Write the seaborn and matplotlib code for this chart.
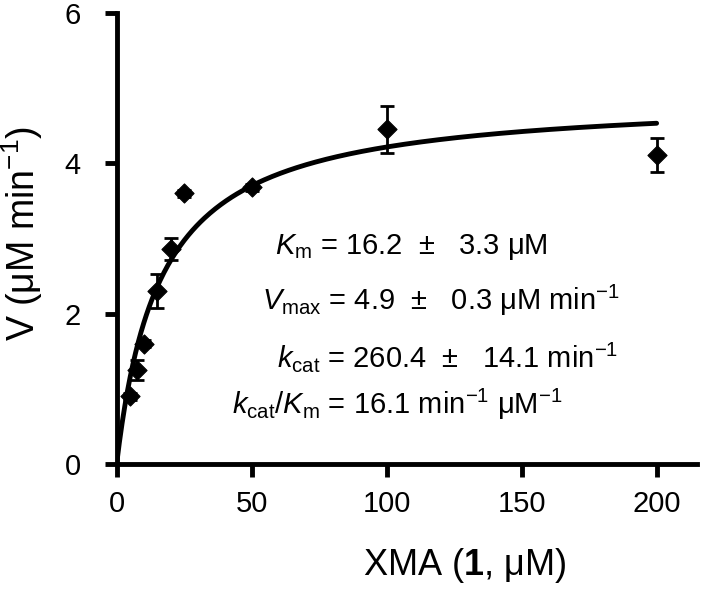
import numpy as np
import pandas as pd
import matplotlib
matplotlib.use("Agg")
import matplotlib.pyplot as plt
import seaborn as sns

# data
conc = [5, 7.5, 10, 15, 20, 25, 50, 100, 200]
rate = [0.90, 1.25, 1.60, 2.30, 2.86, 3.60, 3.68, 4.45, 4.11]
err = [0.05, 0.13, 0.05, 0.23, 0.15, 0.05, 0.05, 0.31, 0.23]
vmax = 4.9
km = 16.2
xticks = [0, 50, 100, 150, 200]
yticks = [0, 2, 4, 6]

sns.set_style("ticks")
plt.rcParams['font.family'] = ['Liberation Sans', 'DejaVu Sans']
plt.rcParams['mathtext.fontset'] = 'custom'
plt.rcParams['mathtext.rm'] = 'Liberation Sans'
plt.rcParams['mathtext.it'] = 'Liberation Sans:italic'
plt.rcParams['mathtext.bf'] = 'Liberation Sans:bold'
plt.rcParams['text.color'] = 'black'
plt.rcParams['axes.labelcolor'] = 'black'
plt.rcParams['axes.edgecolor'] = 'black'

df = pd.DataFrame({"conc": conc, "rate": rate, "err": err})
fit_x = np.linspace(0, 200, 400)
fit = pd.DataFrame({"x": fit_x, "y": vmax * fit_x / (km + fit_x)})

fig = plt.figure(figsize=(7.07, 5.90), dpi=100)
ax = fig.add_axes([0.165, 0.2136, 0.821, 0.7644])

# Michaelis-Menten fit + data
sns.lineplot(data=fit, x="x", y="y", color="black", linewidth=3.5, ax=ax)
ax.errorbar(df["conc"], df["rate"], yerr=df["err"], fmt="none", ecolor="black",
            elinewidth=2, capsize=5, capthick=2, zorder=3)
sns.scatterplot(data=df, x="conc", y="rate", marker="D", s=95, color="black",
                edgecolor="black", ax=ax, zorder=4)

ax.set_xlim(0, 215)
ax.set_ylim(0, 6)
ax.set_xticks(xticks)
ax.set_yticks(yticks)
sns.despine(ax=ax)
for s in ["left", "bottom"]:
    ax.spines[s].set_linewidth(3.5)
ax.tick_params(axis="both", width=3.5, length=9, labelsize=21, color="black",
               labelcolor="black", direction="out")
ax.tick_params(axis="y", pad=17)
ax.tick_params(axis="x", pad=10)

ax.set_xlabel(r"XMA ($\mathbf{1}$, μM)", fontsize=26, va="baseline")
ax.xaxis.set_label_coords(0.6, -0.246)
ax.set_ylabel(r"V (μM min$^{\mathrm{-1}}$)", fontsize=27, va="center")
ax.yaxis.set_label_coords(-0.162, 0.512)

fs = 21
pm = "  ±   "
ax.text(58.5, 2.79, r"$\mathit{K}_{\mathrm{m}}$ = 16.2" + pm + "3.3 μM", fontsize=fs, va="baseline")
ax.text(53.7, 2.05, r"$\mathit{V}_{\mathrm{max}}$ = 4.9" + pm + r"0.3 μM min$^{\mathrm{-1}}$", fontsize=fs, va="baseline")
ax.text(59.3, 1.29, r"$\mathit{k}_{\mathrm{cat}}$ = 260.4" + pm + r"14.1 min$^{\mathrm{-1}}$", fontsize=fs, va="baseline")
ax.text(42.6, 0.66, r"$\mathit{k}_{\mathrm{cat}}$/$\mathit{K}_{\mathrm{m}}$ = 16.1 min$^{\mathrm{-1}}$ μM$^{\mathrm{-1}}$", fontsize=fs, va="baseline")

fig.savefig("out.png", dpi=100)
